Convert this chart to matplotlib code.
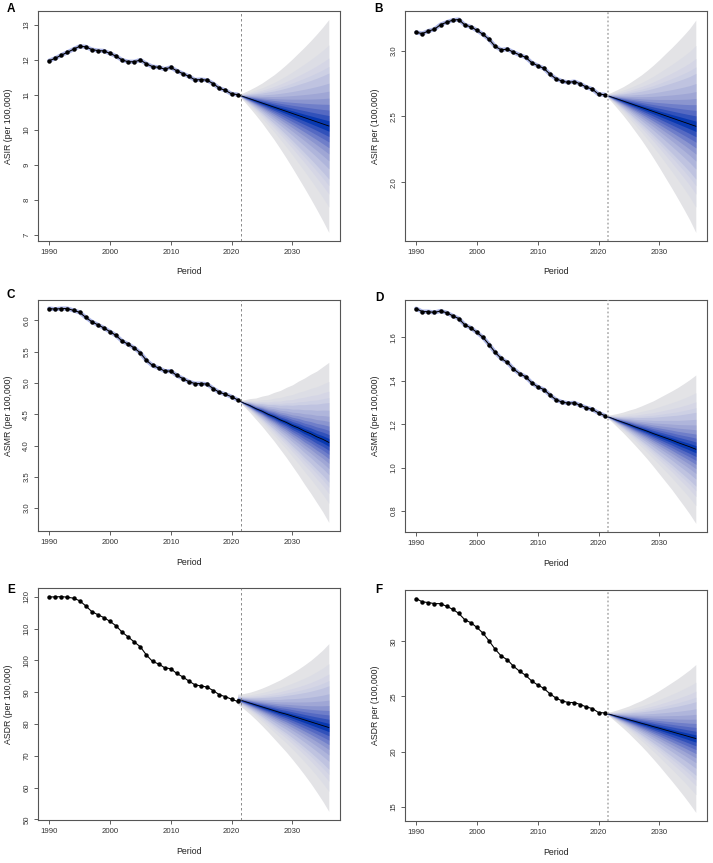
import numpy as np
import matplotlib
matplotlib.use("Agg")
import matplotlib.pyplot as plt
from matplotlib.colors import LinearSegmentedColormap
from matplotlib.ticker import MultipleLocator, FormatStrFormatter
from statistics import NormalDist

plt.rcParams['font.family'] = ['Liberation Sans', 'DejaVu Sans']

years = np.arange(1990, 2022)
proj_years = np.arange(2021, 2037)

# A: ASIR
asir_obs = [11.98, 12.05, 12.14, 12.22, 12.31, 12.39, 12.38, 12.30, 12.27, 12.26,
            12.19, 12.11, 12.00, 11.95, 11.95, 12.00, 11.89, 11.81, 11.79, 11.74,
            11.79, 11.69, 11.61, 11.53, 11.43, 11.44, 11.42, 11.32, 11.19, 11.13,
            11.03, 11.01]
asir_mid = [11.01, 10.95, 10.89, 10.83, 10.77, 10.71, 10.65, 10.59, 10.53, 10.47,
            10.41, 10.35, 10.29, 10.23, 10.17, 10.11]
asir_hw = [0, 0.12, 0.26, 0.41, 0.57, 0.75, 0.93, 1.13, 1.34, 1.56,
           1.79, 2.02, 2.26, 2.51, 2.77, 3.05]

# B: ASIR (second series)
asir2_obs = [3.138, 3.128, 3.148, 3.161, 3.196, 3.214, 3.230, 3.235, 3.194, 3.179,
             3.153, 3.122, 3.084, 3.031, 3.005, 3.010, 2.987, 2.967, 2.949, 2.908,
             2.885, 2.865, 2.821, 2.786, 2.768, 2.758, 2.765, 2.747, 2.722, 2.707,
             2.668, 2.666]
asir2_mid = [2.666, 2.650, 2.634, 2.618, 2.602, 2.586, 2.570, 2.554, 2.538, 2.522,
             2.506, 2.490, 2.474, 2.458, 2.442, 2.426]
asir2_hw = [0, 0.031, 0.068, 0.107, 0.150, 0.197, 0.244, 0.296, 0.351, 0.409,
            0.470, 0.530, 0.593, 0.658, 0.726, 0.805]

# C: ASMR
asmr_obs = [6.19, 6.18, 6.19, 6.19, 6.16, 6.13, 6.05, 5.98, 5.93, 5.88,
            5.82, 5.76, 5.67, 5.62, 5.56, 5.48, 5.36, 5.28, 5.24, 5.19,
            5.19, 5.12, 5.07, 5.02, 4.99, 4.99, 4.98, 4.91, 4.85, 4.82,
            4.78, 4.73]
asmr_mid = [4.73, 4.68, 4.64, 4.59, 4.55, 4.50, 4.46, 4.41, 4.37, 4.32,
            4.28, 4.23, 4.19, 4.14, 4.10, 4.05]
asmr_hw = [0, 0.05, 0.11, 0.17, 0.24, 0.31, 0.39, 0.47, 0.56, 0.65,
           0.75, 0.85, 0.95, 1.05, 1.16, 1.28]

# D: ASMR (second series)
asmr2_obs = [1.733, 1.719, 1.719, 1.715, 1.722, 1.714, 1.700, 1.687, 1.658, 1.644,
             1.623, 1.600, 1.567, 1.531, 1.503, 1.485, 1.455, 1.433, 1.419, 1.391,
             1.372, 1.360, 1.335, 1.313, 1.302, 1.297, 1.299, 1.287, 1.276, 1.268,
             1.252, 1.240]
asmr2_mid = [1.240, 1.230, 1.219, 1.209, 1.199, 1.188, 1.178, 1.168, 1.157, 1.147,
             1.137, 1.127, 1.116, 1.106, 1.096, 1.085]
asmr2_hw = [0, 0.014, 0.030, 0.047, 0.066, 0.085, 0.106, 0.128, 0.151, 0.176,
            0.201, 0.226, 0.253, 0.281, 0.310, 0.342]

# E: ASDR
asdr_obs = [120.0, 120.0, 120.1, 119.9, 119.6, 118.8, 117.2, 115.4, 114.4, 113.5,
            112.3, 110.9, 108.9, 107.4, 105.8, 104.3, 101.7, 99.7, 98.9, 97.7,
            97.4, 95.9, 94.8, 93.5, 92.3, 92.0, 91.6, 90.5, 89.2, 88.6,
            87.8, 87.1]
asdr_mid = [87.8, 87.2, 86.6, 86.0, 85.4, 84.8, 84.2, 83.6, 83.1, 82.5,
            81.9, 81.3, 80.7, 80.1, 79.5, 78.9]
asdr_hw = [1.6, 2.4, 3.4, 4.6, 5.9, 7.3, 8.8, 10.3, 11.9, 13.6,
           15.4, 17.3, 19.3, 21.5, 23.8, 26.4]

# F: ASDR (second series)
asdr2_obs = [33.87, 33.57, 33.51, 33.41, 33.41, 33.17, 32.90, 32.53, 31.95, 31.68,
             31.25, 30.73, 30.03, 29.27, 28.66, 28.32, 27.74, 27.29, 26.92, 26.40,
             26.04, 25.73, 25.24, 24.85, 24.60, 24.45, 24.45, 24.27, 24.05, 23.90,
             23.54, 23.51]
asdr2_mid = [23.51, 23.36, 23.20, 23.05, 22.89, 22.74, 22.58, 22.43, 22.27, 22.12,
             21.96, 21.81, 21.65, 21.50, 21.34, 21.19]
asdr2_hw = [0, 0.26, 0.57, 0.90, 1.25, 1.65, 2.04, 2.48, 2.94, 3.42,
            3.93, 4.44, 4.96, 5.51, 6.08, 6.70]

# coverage of each fan band, outermost first
fan_levels = [0.99, 0.95, 0.9, 0.85, 0.8, 0.7, 0.6, 0.5, 0.4, 0.3, 0.2, 0.1]
fan_cmap = LinearSegmentedColormap.from_list(
    'fan', [(0.0, '#e3e3e6'), (0.3, '#cbcee4'), (0.6, '#959dd2'),
            (0.85, '#4c62c0'), (1.0, '#0838b0')])

W, H = 713, 863


def draw_panel(ax, obs, mid, hw, ylabel, ystep, yfmt, halo, vstyle):
    obs = np.array(obs)
    mid = np.array(mid)
    hw = np.array(hw)
    nd = NormalDist()
    z_out = nd.inv_cdf((1 + fan_levels[0]) / 2)
    for i, lev in enumerate(fan_levels):
        z = nd.inv_cdf((1 + lev) / 2)
        col = fan_cmap(i / (len(fan_levels) - 1))
        ax.fill_between(proj_years, mid - hw * z / z_out, mid + hw * z / z_out,
                        color=col, lw=0, zorder=1)
    ax.plot(proj_years, mid, color='black', lw=0.6, zorder=3)

    if halo:
        ax.plot(years, obs, color='#aab3e4', lw=3.0, solid_capstyle='round', zorder=2)
    ax.plot(years, obs, color='black', lw=0.8, marker='o', ms=2.2, zorder=4)

    if vstyle == 'dash':
        ax.axvline(2021.5, color='#777777', lw=0.6, ls=(0, (3, 3)), zorder=5)
    else:
        ax.axvline(2021.5, color='#aaaaaa', lw=1.1, ls=(0, (1.2, 1.5)), zorder=5)

    ax.margins(x=0.04, y=0.04)
    ax.xaxis.set_major_locator(MultipleLocator(10))
    ax.yaxis.set_major_locator(MultipleLocator(ystep))
    ax.yaxis.set_major_formatter(FormatStrFormatter(yfmt))
    ax.tick_params(axis='both', labelsize=5.6, length=3, width=0.6,
                   color='#444444', labelcolor='#333333', pad=2.5)
    ax.tick_params(axis='y', labelrotation=90)
    for lab in ax.get_yticklabels():
        lab.set_va('center')
    for sp in ax.spines.values():
        sp.set_color('#555555')
        sp.set_linewidth(0.8)
    ax.set_xlabel('Period', fontsize=6.3, color='#222222')
    ax.set_ylabel(ylabel, fontsize=6.3, color='#222222')
    ax.xaxis.set_label_coords(0.5, -0.115)
    ax.yaxis.set_label_coords(-0.082, 0.5)


fig = plt.figure(figsize=(W / 100, H / 100), dpi=100)

panels = [
    ('A', (38, 340, 11, 241), asir_obs, asir_mid, asir_hw, 'ASIR (per 100,000)', 1, '%d', True, 'dash', (11, 9)),
    ('B', (405, 707, 11, 241), asir2_obs, asir2_mid, asir2_hw, 'ASIR per (100,000)', 0.5, '%.1f', True, 'dot', (379, 9)),
    ('C', (38, 340, 300, 531), asmr_obs, asmr_mid, asmr_hw, 'ASMR (per 100,000)', 0.5, '%.1f', True, 'dash', (11, 295)),
    ('D', (405, 707, 300, 532), asmr2_obs, asmr2_mid, asmr2_hw, 'ASMR (per 100,000)', 0.2, '%.1f', True, 'dot', (379, 298)),
    ('E', (38, 340, 588, 820), asdr_obs, asdr_mid, asdr_hw, 'ASDR (per 100,000)', 10, '%d', False, 'dash', (11, 590)),
    ('F', (405, 707, 590, 821), asdr2_obs, asdr2_mid, asdr2_hw, 'ASDR per (100,000)', 5, '%d', False, 'dot', (379, 590)),
]

for letter, (l, r, t, b), obs, mid, hw, ylab, ystep, yfmt, halo, vstyle, (lx, ly) in panels:
    ax = fig.add_axes([l / W, 1 - b / H, (r - l) / W, (b - t) / H])
    draw_panel(ax, obs, mid, hw, ylab, ystep, yfmt, halo, vstyle)
    fig.text(lx / W, 1 - ly / H, letter, fontsize=8.5, fontweight='bold',
             ha='center', va='center')

fig.savefig('out.png', dpi=100, facecolor='white')
